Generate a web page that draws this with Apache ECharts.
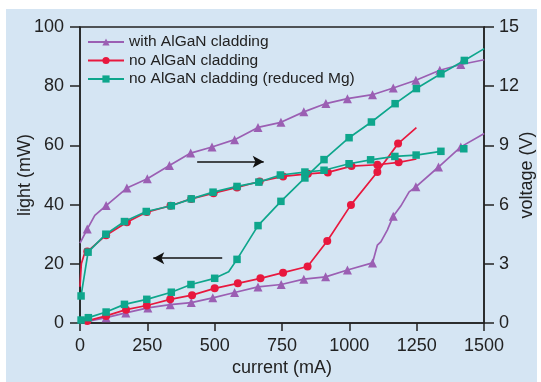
<!DOCTYPE html>
<html><head><meta charset="utf-8">
<script src="https://cdn.jsdelivr.net/npm/echarts@6/dist/echarts.min.js"></script>
<style>html,body{margin:0;padding:0;background:#fff}#c{width:541px;height:382px}</style>
</head><body><div id="c"></div><script>
const FONT = "'Liberation Sans',Arial,sans-serif";
const seriesNames = ['with AlGaN cladding', 'no AlGaN cladding', 'no AlGaN cladding (reduced Mg)'];
const xTicks = [0, 250, 500, 750, 1000, 1250, 1500];
const lightTicks = [0, 20, 40, 60, 80, 100];
const voltTicks = [0, 3, 6, 9, 12, 15];

// light output (mW) vs current (mA): marker points and unmarked path points
const purpleLightMarks = [[97,1.8],[170,3.4],[252,5.1],[335,6.2],[413,6.9],[493,8.5],[574,10.3],[661,12.2],[747,13.0],[831,14.8],[912,15.6],[993,17.9],[1086,20.3],[1163,36.1],[1247,46.0],[1331,52.7],[1414,59.5],[1501,64.0]];
const purpleLightPath = [[0,0],[1104,26.3],[1117,27.4],[1141,31.4],[1191,39.5],[1222,44.3]];
const redLightMarks = [[27,0.7],[97,2.4],[171,4.5],[248,5.9],[335,8.0],[416,9.4],[500,11.7],[586,13.4],[670,15.1],[754,17.0],[845,19.1],[918,27.7],[1006,39.9],[1104,51.0],[1181,60.6]];
const redLightPath = [[0,0],[1249,66.0]];
const greenLightMarks = [[4,1.0],[31,1.8],[97,3.7],[165,6.3],[248,8.0],[339,10.4],[412,13.0],[500,15.1],[583,21.5],[661,32.9],[746,41.1],[835,49.0],[906,55.2],[999,62.6],[1082,67.9],[1170,74.1],[1249,79.2],[1340,84.2],[1427,88.7]];
const greenLightPath = [[552,17.3],[1501,92.7]];

// voltage (V) vs current (mA)
const purpleVoltMarks = [[27,4.76],[97,5.95],[174,6.84],[250,7.31],[332,7.98],[411,8.61],[490,8.92],[574,9.29],[661,9.91],[746,10.17],[831,10.7],[913,11.12],[993,11.37],[1086,11.57],[1163,11.91],[1247,12.3],[1336,12.81],[1414,13.1],[1501,13.34]];
const purpleVoltPath = [[0,4.05],[55,5.45]];
const redVoltMarks = [[27,3.62],[97,4.45],[174,5.11],[248,5.62],[336,5.94],[413,6.29],[496,6.58],[583,6.87],[667,7.17],[754,7.43],[846,7.56],[920,7.63],[1008,7.95],[1104,8.02],[1183,8.14]];
const redVoltPath = [[0,1.84],[5,3.0],[15,3.45],[1249,8.31]];
const greenVoltMarks = [[4,1.37],[30,3.59],[96,4.5],[165,5.14],[246,5.65],[339,5.94],[413,6.29],[494,6.63],[583,6.92],[664,7.14],[744,7.5],[835,7.65],[906,7.74],[999,8.07],[1079,8.27],[1169,8.44],[1248,8.51],[1340,8.7],[1425,8.83]];
const greenVoltPath = [[1380,'-']];

// annotation arrows (data coordinates)
const arrowToVolt = [[435,8.17],[682,8.17]];
const arrowToLight = [[528,21.9],[272,21.9]];

const colors = ['#9b5fb3', '#e8183e', '#0ea68c'];
const symbols = ['triangle', 'circle', 'rect'];
const symSizes = [9, 8, 7.5];

function build(marks, path) {
  const pts = marks.map(p => ({ value: [p[0], p[1]] }))
    .concat(path.map(p => ({ value: [p[0], p[1]], symbol: 'none' })));
  pts.sort((a, b) => a.value[0] - b.value[0]);
  return pts;
}

const lightData = [build(purpleLightMarks, purpleLightPath), build(redLightMarks, redLightPath), build(greenLightMarks, greenLightPath)];
const voltData = [build(purpleVoltMarks, purpleVoltPath), build(redVoltMarks, redVoltPath), build(greenVoltMarks, greenVoltPath)];

const series = [];
for (let i = 0; i < 3; i++) {
  const base = {
    name: seriesNames[i], type: 'line', symbol: symbols[i], symbolSize: symSizes[i],
    showAllSymbol: true, connectNulls: false,
    itemStyle: { color: colors[i] }, lineStyle: { color: colors[i], width: 1.7 },
    emphasis: { disabled: true }, z: 3 + i
  };
  series.push(Object.assign({}, base, { yAxisIndex: 0, data: lightData[i] }));
  series.push(Object.assign({}, base, { yAxisIndex: 1, data: voltData[i] }));
}
const arrowStyle = { silent: true, symbol: ['none', 'arrow'], symbolSize: [9, 11], label: { show: false },
  lineStyle: { color: '#111', width: 1.5, type: 'solid' }, emphasis: { disabled: true } };
series[1].markLine = Object.assign({}, arrowStyle, { data: [[{ coord: arrowToVolt[0] }, { coord: arrowToVolt[1] }]] });
series[0].markLine = Object.assign({}, arrowStyle, { data: [[{ coord: arrowToLight[0] }, { coord: arrowToLight[1] }]] });

const plain = v => String(v);
const axisCommon = {
  axisLine: { show: true, lineStyle: { color: '#222', width: 1.5 } },
  axisTick: { show: true, inside: false, length: 10, lineStyle: { color: '#222', width: 1.5 } },
  splitLine: { show: false },
  nameLocation: 'middle',
  nameMoveOverlap: false,
  nameTextStyle: { fontFamily: FONT, fontSize: 18, color: '#222' }
};

const chart = echarts.init(document.getElementById('c'), null, { renderer: 'canvas' });
chart.setOption({
  animation: false,
  backgroundColor: '#ffffff',
  graphic: [{ type: 'rect', left: 6, top: 9, shape: { width: 531, height: 373 }, style: { fill: '#d5e5f3' }, z: -10, silent: true }],
  grid: { left: 80, right: 57, top: 27, bottom: 59, containLabel: false, outerBoundsMode: 'none',
    show: true, borderColor: '#222', borderWidth: 1.5, backgroundColor: 'transparent' },
  legend: {
    data: seriesNames, orient: 'vertical', left: 82, top: 28, itemWidth: 36, itemHeight: 9, itemGap: 0.5,
    textStyle: { fontFamily: FONT, fontSize: 15.5, color: '#222', lineHeight: 18 }
  },
  xAxis: Object.assign({}, axisCommon, {
    type: 'value', min: xTicks[0], max: xTicks[xTicks.length - 1], interval: xTicks[1] - xTicks[0],
    name: 'current (mA)', nameGap: 36,
    axisTick: { show: true, length: 8, lineStyle: { color: '#222', width: 1.5 } },
    axisLabel: { fontFamily: FONT, fontSize: 18, color: '#222', margin: 14, formatter: plain }
  }),
  yAxis: [
    Object.assign({}, axisCommon, {
      type: 'value', position: 'left', min: lightTicks[0], max: lightTicks[lightTicks.length - 1], interval: lightTicks[1] - lightTicks[0],
      name: 'light (mW)', nameGap: 46, nameRotate: 90,
      axisLabel: { fontFamily: FONT, fontSize: 18, color: '#222', margin: 16, formatter: plain }
    }),
    Object.assign({}, axisCommon, {
      type: 'value', position: 'right', min: voltTicks[0], max: voltTicks[voltTicks.length - 1], interval: voltTicks[1] - voltTicks[0],
      name: 'voltage (V)', nameGap: 34, nameRotate: 90,
      axisLabel: { fontFamily: FONT, fontSize: 18, color: '#222', margin: 15, formatter: plain }
    })
  ],
  series: series
});
</script></body></html>
